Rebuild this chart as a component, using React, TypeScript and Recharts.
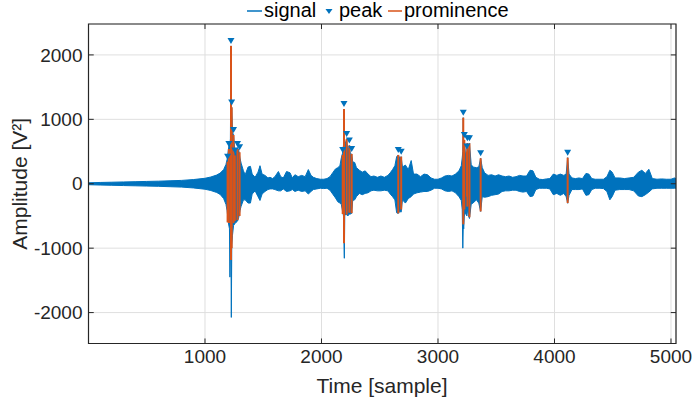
import React from "react";
import { ComposedChart, Area, Scatter, XAxis, YAxis, CartesianGrid, ReferenceLine, ReferenceArea } from "recharts";

const BLUE = "#0072BD";
const ORANGE = "#D95319";
const INK = "#262626";
const FONT = "'Liberation Sans', Arial, Helvetica, sans-serif";

// signal envelope: sample, upper and lower amplitude
const sigT = [
  0, 100, 200, 300, 400, 500, 600, 700, 800, 900,
  1000, 1050, 1100, 1130, 1160, 1180, 1190, 1200, 1210, 1214,
  1218, 1223, 1226, 1230, 1236, 1245, 1256, 1266, 1279, 1290,
  1300, 1310, 1330, 1345, 1370, 1390, 1405, 1430, 1455, 1472,
  1490, 1515, 1540, 1558, 1580, 1600, 1630, 1650, 1672, 1700,
  1730, 1750, 1772, 1800, 1830, 1860, 1887, 1910, 1930, 1960,
  1990, 2020, 2047, 2073, 2100, 2120, 2140, 2158, 2170, 2180,
  2189, 2193, 2196, 2200, 2216, 2226, 2239, 2249, 2259, 2268,
  2285, 2300, 2325, 2350, 2375, 2400, 2425, 2450, 2480, 2510,
  2540, 2570, 2590, 2610, 2630, 2645, 2659, 2672, 2684, 2695,
  2720, 2745, 2770, 2790, 2820, 2850, 2880, 2910, 2940, 2970,
  3000, 3030, 3060, 3090, 3120, 3150, 3180, 3200, 3208, 3213,
  3217, 3221, 3226, 3236, 3248, 3252, 3262, 3270, 3285, 3300,
  3330, 3350, 3366, 3380, 3400, 3430, 3460, 3490, 3520, 3550,
  3580, 3610, 3640, 3670, 3700, 3730, 3760, 3790, 3815, 3840,
  3870, 3900, 3930, 3960, 3990, 4020, 4050, 4080, 4100, 4113,
  4125, 4150, 4180, 4210, 4240, 4270, 4295, 4320, 4350, 4390,
  4420, 4450, 4475, 4495, 4520, 4560, 4600, 4640, 4680, 4720,
  4750, 4780, 4810, 4840, 4880, 4920, 4960, 5000, 5030, 5043,
];
const sigHi = [
  15, 20, 24, 28, 32, 36, 40, 46, 52, 65,
  85, 105, 135, 165, 220, 300, 380, 520, 650, 600,
  700, 2140, 1200, 1185, 800, 758, 520, 480, 560, 520,
  400, 320, 200, 140, 260, 270, 150, 100, 180, 280,
  150, 130, 90, 100, 80, 110, 190, 110, 90, 190,
  170, 90, 140, 110, 130, 110, 220, 130, 100, 80,
  70, 70, 80, 110, 180, 230, 250, 280, 400, 470,
  600, 1160, 700, 600, 696, 500, 595, 450, 463, 340,
  330, 250, 210, 180, 200, 150, 110, 120, 100, 120,
  100, 130, 170, 220, 280, 420, 447, 400, 421, 260,
  290, 220, 360, 150, 150, 110, 150, 140, 90, 70,
  70, 90, 120, 130, 120, 150, 200, 280, 400, 500,
  1026, 500, 680, 450, 500, 629, 450, 629, 300, 260,
  250, 260, 396, 250, 170, 130, 140, 120, 140, 120,
  110, 120, 100, 110, 130, 120, 120, 210, 200, 100,
  70, 65, 75, 80, 150, 130, 150, 130, 150, 405,
  150, 90, 80, 90, 80, 160, 150, 80, 70, 70,
  70, 110, 210, 180, 90, 90, 80, 90, 100, 180,
  210, 160, 225, 80, 70, 75, 70, 70, 90, 80,
];
const sigLo = [
  -15, -20, -24, -28, -32, -36, -40, -46, -52, -65,
  -85, -105, -135, -165, -230, -320, -420, -600, -700, -1450,
  -900, -1100, -2075, -950, -800, -650, -620, -600, -580, -520,
  -420, -350, -250, -250, -300, -300, -160, -110, -200, -260,
  -160, -120, -90, -80, -80, -90, -110, -110, -80, -120,
  -110, -90, -120, -100, -120, -110, -160, -120, -90, -80,
  -70, -75, -70, -100, -170, -220, -280, -300, -320, -420,
  -500, -930, -1157, -480, -480, -500, -470, -470, -460, -260,
  -250, -200, -150, -170, -150, -140, -110, -100, -110, -110,
  -100, -110, -160, -200, -250, -450, -460, -430, -440, -250,
  -300, -230, -200, -160, -140, -130, -120, -120, -100, -70,
  -70, -80, -110, -120, -110, -140, -200, -260, -400, -1000,
  -640, -700, -500, -450, -500, -400, -500, -540, -320, -300,
  -250, -300, -430, -200, -210, -200, -180, -170, -160, -120,
  -110, -110, -100, -100, -120, -130, -120, -200, -190, -90,
  -70, -70, -70, -80, -170, -150, -180, -150, -200, -303,
  -180, -90, -90, -90, -80, -180, -170, -90, -70, -70,
  -75, -120, -250, -200, -100, -90, -90, -90, -110, -190,
  -200, -170, -130, -80, -70, -70, -70, -70, -70, -70,
];

// detected peaks and the lower end of their prominence lines
const peakT = [1194, 1205, 1223, 1229, 1245, 1256, 1279, 1297, 2182, 2193, 2216, 2239, 2259, 2659, 2684, 3217, 3226, 3248, 3252, 3270, 3366, 4113];
const peakV = [343, 540, 2140, 1185, 758, 440, 540, 489, 447, 1160, 696, 595, 463, 447, 421, 1026, 680, 500, 629, 629, 396, 405];
const promBase = [-600, -610, -1183, -1000, -610, -580, -565, -500, -470, -924, -480, -450, -457, -460, -400, -630, -400, -200, -355, -520, -430, -300];

const xTicks = [1000, 2000, 3000, 4000, 5000];
const yTicks = [-2000, -1000, 0, 1000, 2000];
const X_MIN = 0, X_MAX = 5043;
const Y_MIN = -2480, Y_MAX = 2480;
// inward tick length, in data units (about 5px)
const TICK_X = 45;
const TICK_Y = 78;

const signalData = sigT.map((t, i) => ({ t, band: [sigLo[i], sigHi[i]] }));
const peakData = peakT.map((t, i) => ({ t, v: peakV[i] }));

const PeakMarker = (p: any) => {
  const { cx, cy } = p;
  if (cx == null || cy == null) return null;
  return <path d={`M${cx - 3.5},${cy - 8} L${cx + 3.5},${cy - 8} L${cx},${cy - 2} Z`} fill={BLUE} />;
};

const tickStyle = { fontSize: 19, fill: INK, fontFamily: FONT };

function LegendBar() {
  const t = { fontSize: 20, fill: "#000", fontFamily: FONT };
  return (
    <svg width={694} height={26} style={{ position: "absolute", left: 0, top: 0 }}>
      <line x1={247} x2={262} y1={11} y2={11} stroke={BLUE} strokeWidth={1.5} />
      <text x={264} y={17} {...t}>signal</text>
      <path d="M325.5,9 L332.5,9 L329,14 Z" fill={BLUE} />
      <text x={339} y={17} {...t}>peak</text>
      <line x1={388} x2={402} y1={11} y2={11} stroke={ORANGE} strokeWidth={1.5} />
      <text x={404} y={17} {...t}>prominence</text>
    </svg>
  );
}

export default function App() {
  return (
    <div style={{ position: "absolute", left: 0, top: 0, width: 694, height: 402, background: "#fff" }}>
      <ComposedChart width={694} height={402} margin={{ top: 24, right: 18, bottom: 0, left: 0 }}>
        <CartesianGrid xAxisId="x" yAxisId="y" stroke="#dfdfdf" strokeWidth={1} />
        <XAxis
          xAxisId="x"
          dataKey="t"
          type="number"
          domain={[X_MIN, X_MAX]}
          ticks={xTicks}
          allowDataOverflow
          height={58.5}
          tickLine={false}
          tickSize={0}
          tickMargin={6.5}
          tick={tickStyle}
          axisLine={false}
          label={{
            content: () => (
              <text x={382} y={393} textAnchor="middle" fontSize={21} fill={INK} fontFamily={FONT}>
                Time [sample]
              </text>
            ),
          }}
        />
        <YAxis
          yAxisId="y"
          type="number"
          domain={[Y_MIN, Y_MAX]}
          ticks={yTicks}
          allowDataOverflow
          width={88.5}
          tickLine={false}
          tickSize={0}
          tickMargin={6}
          tick={tickStyle}
          axisLine={false}
          label={{
            content: () => (
              <text x={27.5} y={183.8} transform="rotate(-90, 27.5, 183.8)" textAnchor="middle" fontSize={21} fill={INK} fontFamily={FONT}>
                Amplitude [V²]
              </text>
            ),
          }}
        />

        <Area
          xAxisId="x"
          yAxisId="y"
          data={signalData}
          dataKey="band"
          type="linear"
          stroke={BLUE}
          strokeWidth={1}
          fill={BLUE}
          fillOpacity={1}
          dot={false}
          activeDot={false}
          isAnimationActive={false}
        />
        {peakT.map((t, i) => (
          <ReferenceLine
            key={`prom-${i}`}
            xAxisId="x"
            yAxisId="y"
            segment={[{ x: t, y: peakV[i] }, { x: t, y: promBase[i] }]}
            stroke={ORANGE}
            strokeWidth={2}
          />
        ))}
        <Scatter xAxisId="x" yAxisId="y" data={peakData} dataKey="v" shape={PeakMarker} isAnimationActive={false} />

        {/* axes box with inward ticks */}
        <ReferenceArea xAxisId="x" yAxisId="y" x1={X_MIN} x2={X_MAX} y1={Y_MIN} y2={Y_MAX} fill="none" stroke={INK} strokeWidth={1.2} ifOverflow="visible" />
        {xTicks.map((t) => (
          <ReferenceLine key={`xb-${t}`} xAxisId="x" yAxisId="y" segment={[{ x: t, y: Y_MIN }, { x: t, y: Y_MIN + TICK_Y }]} stroke={INK} strokeWidth={1} />
        ))}
        {xTicks.map((t) => (
          <ReferenceLine key={`xt-${t}`} xAxisId="x" yAxisId="y" segment={[{ x: t, y: Y_MAX }, { x: t, y: Y_MAX - TICK_Y }]} stroke={INK} strokeWidth={1} />
        ))}
        {yTicks.map((v) => (
          <ReferenceLine key={`yl-${v}`} xAxisId="x" yAxisId="y" segment={[{ x: X_MIN, y: v }, { x: X_MIN + TICK_X, y: v }]} stroke={INK} strokeWidth={1} />
        ))}
        {yTicks.map((v) => (
          <ReferenceLine key={`yr-${v}`} xAxisId="x" yAxisId="y" segment={[{ x: X_MAX, y: v }, { x: X_MAX - TICK_X, y: v }]} stroke={INK} strokeWidth={1} />
        ))}
      </ComposedChart>
      <LegendBar />
    </div>
  );
}
